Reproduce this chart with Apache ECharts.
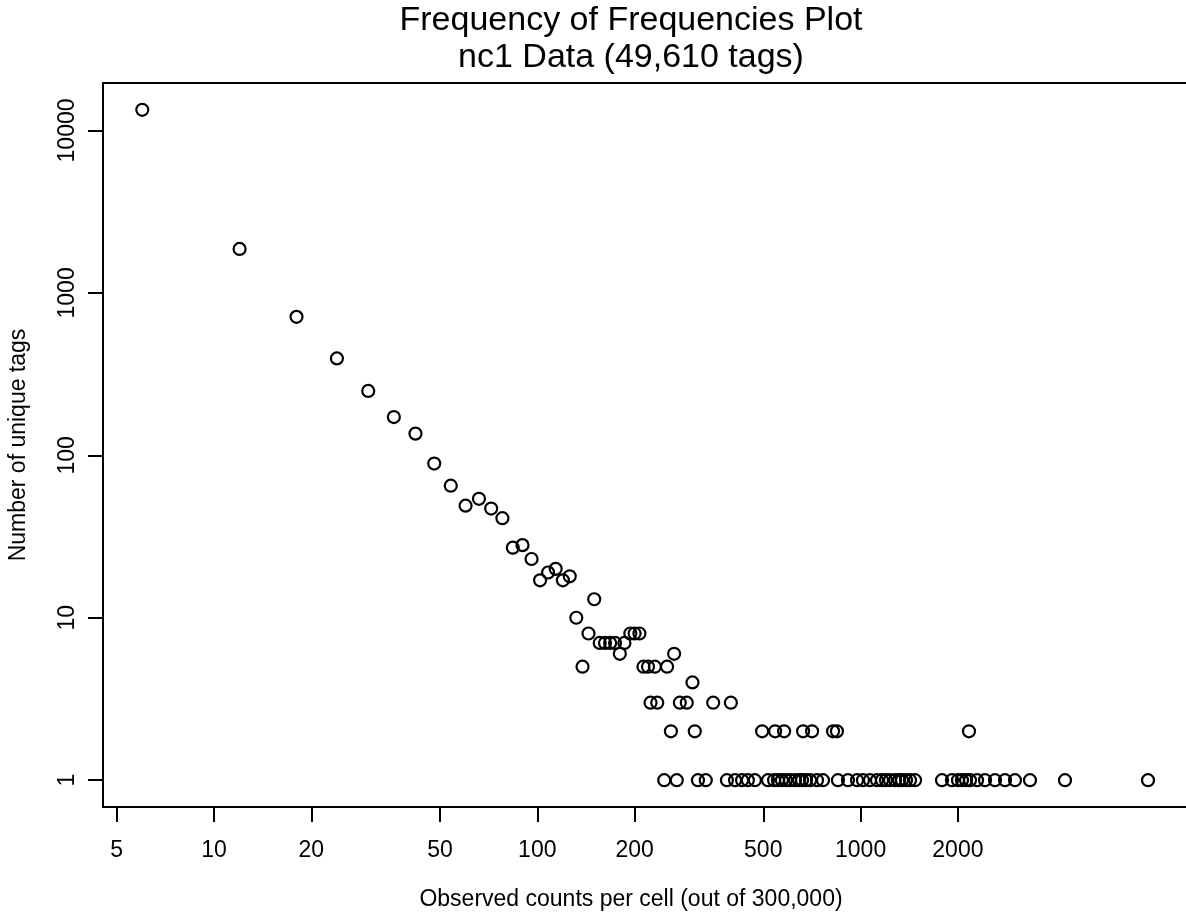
<!DOCTYPE html>
<html>
<head>
<meta charset="utf-8">
<title>Frequency of Frequencies Plot</title>
<script src="https://cdn.jsdelivr.net/npm/echarts@6/dist/echarts.min.js"></script>
<style>
  html, body { margin: 0; padding: 0; background: #fff; }
  #main { width: 1186px; height: 918px; }
</style>
</head>
<body>
<div id="main"></div>
<script>
// observed counts per cell (x) and number of unique tags with that count (y)
var observedCounts = [
  6, 12, 18, 24, 30, 36, 42, 48, 54, 60, 66, 72, 78, 84, 90, 96, 102, 108, 114, 120,
  126, 132, 138, 144, 150, 156, 162, 168, 174, 180, 186, 194, 200, 207, 213, 220, 224, 231, 235, 247,
  252, 259, 265, 270, 276, 290, 302, 307, 314, 332, 350, 386, 397, 409, 430, 448, 471, 496, 517, 540,
  544, 555, 571, 580, 588, 605, 627, 645, 659, 664, 678, 698, 708, 733, 765, 822, 845, 851, 914, 975,
  1017, 1069, 1124, 1165, 1198, 1233, 1278, 1315, 1343, 1382, 1422, 1474, 1786, 1917, 2001, 2059, 2119, 2164, 2180, 2292,
  2426, 2604, 2797, 3003, 3342, 4288, 7745
];
var uniqueTags = [
  13400, 1864, 712, 395, 249, 172, 136, 89, 65, 49, 54, 47, 41, 27, 28, 23, 17, 19, 20, 17,
  18, 10, 5, 8, 13, 7, 7, 7, 7, 6, 7, 8, 8, 8, 5, 5, 3, 5, 3, 1,
  5, 2, 6, 1, 3, 3, 4, 2, 1, 1, 3, 1, 3, 1, 1, 1, 1, 2, 1, 1,
  2, 1, 1, 2, 1, 1, 1, 1, 1, 2, 1, 1, 2, 1, 1, 2, 2, 1, 1, 1,
  1, 1, 1, 1, 1, 1, 1, 1, 1, 1, 1, 1, 1, 1, 1, 1, 1, 2, 1, 1,
  1, 1, 1, 1, 1, 1, 1
];
var xTicks = [5, 10, 20, 50, 100, 200, 500, 1000, 2000];
var yTicks = [1, 10, 100, 1000, 10000];

var font = '"Liberation Sans", Arial, Helvetica, sans-serif';

var myChart = echarts.init(document.getElementById('main'));

var points = observedCounts.map(function (c, i) { return [c, uniqueTags[i]]; });

var option = {
  animation: false,
  backgroundColor: '#fff',
  graphic: [
    {
      type: 'text', x: 631, y: 39,
      style: {
        text: 'Frequency of Frequencies Plot\nnc1 Data (49,610 tags)',
        fontFamily: font, fontSize: 34, lineHeight: 37, fill: '#000',
        align: 'center', verticalAlign: 'middle'
      }
    },
    {
      type: 'text', x: 631, y: 900,
      style: {
        text: 'Observed counts per cell (out of 300,000)',
        fontFamily: font, fontSize: 23, fill: '#000',
        align: 'center', verticalAlign: 'middle'
      }
    }
  ],
  // plot box runs past the right edge of the picture, as in the original
  grid: {
    left: 103, top: 83, right: -6, bottom: 111,
    outerBoundsMode: 'none', containLabel: false,
    show: true, borderColor: '#000', borderWidth: 2, backgroundColor: 'transparent'
  },
  xAxis: {
    type: 'log', logBase: 10, min: 4.536, max: 10595,
    axisLine: { show: false },
    splitLine: { show: false },
    axisTick: { customValues: xTicks, length: 15, lineStyle: { color: '#000', width: 2 } },
    axisLabel: {
      customValues: xTicks, margin: 32, fontSize: 23, fontFamily: font, color: '#000',
      formatter: function (v) { return String(Math.round(v)); }
    }
  },
  yAxis: {
    type: 'log', logBase: 10, min: 0.684, max: 19590,
    name: 'Number of unique tags', nameLocation: 'middle', nameGap: 73,
    nameTextStyle: { fontSize: 23, fontFamily: font, color: '#000' },
    axisLine: { show: false },
    splitLine: { show: false },
    axisTick: { customValues: yTicks, length: 15, lineStyle: { color: '#000', width: 2 } },
    axisLabel: {
      customValues: yTicks, rotate: 90, margin: 24, fontSize: 23, fontFamily: font, color: '#000',
      formatter: function (v) { return String(Math.round(v)); }
    }
  },
  series: [{
    type: 'scatter',
    data: points,
    symbol: 'circle',
    symbolSize: 12,
    itemStyle: { color: 'rgba(0,0,0,0)', borderColor: '#000', borderWidth: 2.2, opacity: 1 }
  }]
};

myChart.setOption(option);
</script>
</body>
</html>
